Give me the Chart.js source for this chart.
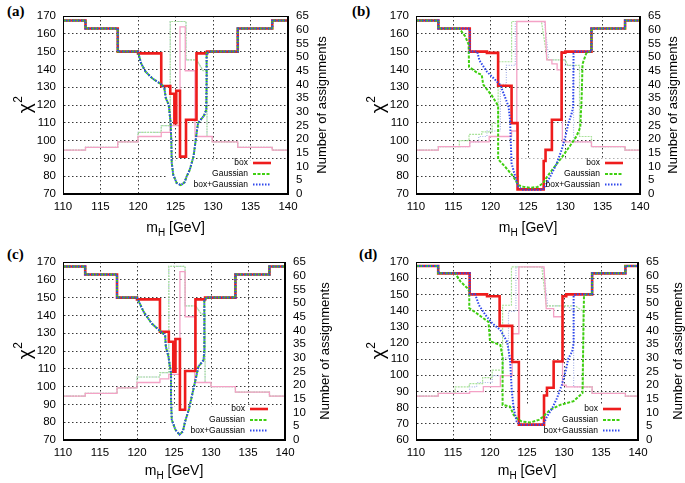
<!DOCTYPE html>
<html>
<head>
<meta charset="utf-8">
<script src="https://cdn.jsdelivr.net/npm/chart.js@4.4.1/dist/chart.umd.min.js"></script>
<style>
  html, body { margin: 0; padding: 0; background: #fff; }
  body { width: 685px; height: 483px; position: relative; overflow: hidden; }
  canvas { position: absolute; }
  .tag { position: absolute; font: bold 15px "Liberation Serif", "Times New Roman", serif; color: #000; }
</style>
</head>
<body>
<div class="tag" style="left:7px;top:3px">(a)</div>
<div class="tag" style="left:352px;top:3px">(b)</div>
<div class="tag" style="left:7px;top:246px">(c)</div>
<div class="tag" style="left:359px;top:246px">(d)</div>
<canvas id="chartA" width="340" height="240" style="left:0;top:0"></canvas>
<canvas id="chartB" width="340" height="240" style="left:345px;top:0"></canvas>
<canvas id="chartC" width="340" height="243" style="left:0;top:240px"></canvas>
<canvas id="chartD" width="340" height="243" style="left:345px;top:240px"></canvas>
<script>
// axis ranges (same x axis everywhere, panel (d) starts its chi2 axis lower)
var massMin = 110, massMax = 140, massStep = 5;
var chiMax = 170, chiStep = 10;
var countMax = 65, countStep = 5;
var seriesNames = ['box', 'Gaussian', 'box+Gaussian'];

// ---- panel (a) : [m_H, chi2] and [m_H, number of assignments]
var aBox = [[110,167.5],[113,167.5],[113,163],[117.3,163],[117.3,150],[120,150],[120,149],[123.1,149],[123.1,130.7],[124.3,130.7],[124.3,126.3],[124.85,126.3],[124.85,109.8],[125.1,109.8],[125.1,128],[125.6,128],[125.6,91],[126.4,91],[126.4,111.7],[127.8,111.7],[127.8,149],[129.2,149],[129.2,150],[133.3,150],[133.3,163],[137.9,163],[137.9,167.5],[140,167.5]];
var aGauss = [[110,167.5],[113,167.5],[113,163],[117.3,163],[117.3,150],[120,150],[120.4,143.5],[121,138.8],[121.9,135],[123,131.9],[123.5,130],[123.7,124],[124.1,120],[124.35,110],[124.45,98.6],[124.5,87.4],[124.7,80.8],[125.15,76.2],[125.7,75],[126.2,76.5],[126.5,80],[126.9,83.6],[127.4,91],[127.7,100.5],[128,109.8],[128.35,111.7],[128.8,114],[129.1,117.3],[129.15,136],[129.15,149],[129.5,150],[133.3,150],[133.3,163],[137.9,163],[137.9,167.5],[140,167.5]];
var aBoxGauss = aGauss;
var aBoxN = [[110,16],[113,16],[113,17],[117.3,17],[117.3,19],[120,19],[120,21],[123.1,21],[123.1,22.5],[124.3,22.5],[124.3,25],[125.6,25],[125.6,61],[126.3,61],[126.3,45],[127.6,45],[127.6,21],[129.9,21],[129.9,19],[133.3,19],[133.3,17],[137.9,17],[137.9,16],[140,16]];
var aGaussN = [[110,16],[113,16],[113,17],[117.3,17],[117.3,19],[120,19],[120,22.5],[123.1,22.5],[123.1,25],[124.3,25],[124.3,63],[126.4,63],[126.4,49],[127.8,49],[128.7,45],[129.2,45],[129.2,21],[129.9,21],[129.9,19],[133.3,19],[133.3,17],[137.9,17],[137.9,16],[140,16]];
var aBoxGaussN = aGaussN;

// ---- panel (b)
var bBox = [[110,167.5],[113,167.5],[113,163],[117.2,163],[117.2,150],[119.5,150],[119.5,149.3],[121,149.3],[121,130.8],[122.8,130.8],[122.8,109.8],[123.6,109.8],[123.6,72.6],[127.1,72.6],[127.1,88.5],[127.35,88.5],[127.35,94.8],[128.2,94.8],[128.2,111.7],[129.5,111.7],[129.5,149.4],[130,149.4],[130,150],[133.5,150],[133.5,163],[138,163],[138,167.5],[140,167.5]];
var bGauss = [[110,167.5],[113,167.5],[113,163],[115.8,163],[116.6,158.5],[117.05,154],[117.1,141.5],[118.2,138],[118.8,137],[119,131.5],[120.2,125],[121,119.5],[121,89.5],[121.9,85.5],[123,80],[123.7,75],[124.4,74],[125.4,73.5],[126.3,74],[127,76],[127.6,80],[128.5,85],[129.6,91],[130.7,97.5],[131.5,102.5],[132,107.5],[132.2,126],[132.3,143],[132.8,149],[133.3,150],[133.5,150],[133.5,163],[138,163],[138,167.5],[140,167.5]];
var bBoxGauss = [[110,167.5],[113,167.5],[113,163],[117.2,163],[117.2,150],[118.2,150],[118.5,145],[119.5,138.7],[120.4,135],[121.3,131.2],[121.9,124.7],[122.4,119],[122.6,111.6],[122.7,98.5],[122.8,87.2],[123.3,79.7],[123.7,74.1],[124.2,72.4],[127,72.4],[127.5,76],[128.2,81.6],[128.85,87.2],[129.5,94.7],[130,102.2],[130.4,109.7],[130.85,115.3],[131.05,119],[131.1,149],[131.3,150],[133.5,150],[133.5,163],[138,163],[138,167.5],[140,167.5]];
var bBoxN = [[110,16],[113,16],[113,17.3],[117.2,17.3],[117.2,19],[119.8,19],[119.8,21],[122.8,21],[122.8,23],[123.5,23],[123.5,63],[127.3,63],[127.5,49],[128.2,49],[128.2,47.5],[128.9,47.5],[128.9,45.3],[129.6,45.3],[129.6,19],[133.5,19],[133.5,17.3],[138,17.3],[138,16],[140,16]];
var bGaussN = [[110,16],[113,16],[113,17.3],[115.8,17.3],[115.8,19.5],[117.1,19.5],[117.1,21.8],[118.8,21.8],[118.8,22.7],[120.2,22.7],[120.2,25.8],[121,25.8],[121,48.3],[122.8,48.3],[122.8,63],[126.8,63],[127.6,49],[130,49],[130.3,47],[131.9,47],[131.9,21],[133.5,21],[133.5,17.3],[138,17.3],[138,16],[140,16]];
var bBoxGaussN = [[110,16],[113,16],[113,17.3],[117.2,17.3],[117.2,19],[118.4,19],[118.4,21],[119.5,21],[119.5,23],[121.3,23],[121.3,40],[122.1,40],[122.1,47],[123.3,47],[123.3,63],[127.2,63],[127.8,49],[130,49],[130,47],[131.1,47],[131.1,21],[131.3,19],[133.5,19],[133.5,17.3],[138,17.3],[138,16],[140,16]];

// ---- panel (c)
var cBox = [[110,167.5],[113,167.5],[113,163],[117.3,163],[117.3,150],[120,150],[120,149],[123.1,149],[123.1,130.8],[124.3,130.8],[124.3,125.2],[124.9,125.2],[124.9,108.4],[125.2,108.4],[125.2,126.7],[125.8,126.7],[125.8,87],[126.5,87],[126.5,108.8],[127.9,108.8],[127.9,149],[129.2,149],[129.2,150],[133.3,150],[133.3,163],[137.9,163],[137.9,167.5],[140,167.5]];
var cGauss = [[110,167.5],[113,167.5],[113,163],[117.3,163],[117.3,150],[120,150],[120.9,142],[122,135.4],[123.1,131.3],[123.8,128.9],[123.9,122.4],[124.25,116.8],[124.6,107.5],[124.6,92.5],[124.7,81.3],[125.2,75.7],[125.75,73],[126.2,74.8],[126.5,80.4],[127,87],[127.4,94.4],[127.9,103.7],[128.3,111.2],[129,114.9],[129.1,120.5],[129.1,149],[129.5,150],[133.3,150],[133.3,163],[137.9,163],[137.9,167.5],[140,167.5]];
var cBoxGauss = cGauss;
var cBoxN = [[110,16],[113,16],[113,17],[117.3,17],[117.3,19],[120,19],[120,21],[123.1,21],[123.1,22.3],[124.3,22.3],[124.3,24],[125.8,24],[125.8,61.5],[126.5,61.5],[126.5,45],[127.8,45],[127.8,21],[130,21],[130,19.5],[133.3,19.5],[133.3,17.5],[137.9,17.5],[137.9,16],[140,16]];
var cGaussN = [[110,16],[113,16],[113,17],[117.3,17],[117.3,19],[120,19],[120,23],[123.1,23],[123.1,24.6],[124.3,24.6],[124.3,63.4],[126.5,63.4],[126.5,49],[127.9,49],[128.7,46],[129.2,46],[129.2,21],[130,21],[130,19.5],[133.3,19.5],[133.3,17.5],[137.9,17.5],[137.9,16],[140,16]];
var cBoxGaussN = cGaussN;

// ---- panel (d)
var dBox = [[110,167.5],[113,167.5],[113,163],[117.25,163],[117.25,150],[119.6,150],[119.6,148.8],[121.3,148.8],[121.3,130.5],[123,130.5],[123,108.2],[123.9,108.2],[123.9,69.5],[127.3,69.5],[127.3,87.5],[127.7,87.5],[127.7,92.3],[128.6,92.3],[128.6,108.5],[129.8,108.5],[129.8,148.8],[130.3,148.8],[130.3,150],[133.8,150],[133.8,163],[138.3,163],[138.3,167.5],[140,167.5]];
var dGauss = [[110,167.5],[113,167.5],[113,163],[115.3,163],[116,158],[116.9,154],[117.2,152],[117.2,141.5],[118.2,138.3],[119.1,135.2],[119.8,133],[120,121],[121.4,118.7],[121.7,111],[121.7,81.7],[122.7,80.7],[123.2,75.5],[123.6,73.5],[124.3,71.4],[125.4,70.8],[126.6,72.4],[127.2,74.5],[128.1,78.6],[129.5,81.7],[131.3,84],[132.5,89],[132.6,120],[132.7,149.5],[133.1,150],[133.8,150],[133.8,163],[138.3,163],[138.3,167.5],[140,167.5]];
var dBoxGauss = [[110,167.5],[113,167.5],[113,163],[117.25,163],[117.25,150],[118,150],[118.5,143.4],[119.4,137.2],[120.3,132.1],[121.4,128],[122.3,120.8],[122.7,110.5],[122.95,90],[123.2,79.6],[123.6,71.4],[124.1,69.5],[127.2,69.5],[127.7,74.5],[128.4,79.6],[129.05,85.8],[129.7,94],[130.2,102.3],[130.6,110.5],[131.1,114.6],[131.3,120],[131.3,149.5],[131.6,150],[133.8,150],[133.8,163],[138.3,163],[138.3,167.5],[140,167.5]];
var dBoxN = [[110,16],[113,16],[113,17],[117.25,17],[117.25,17.7],[119.1,17.7],[119.1,19.5],[121.4,19.5],[121.4,23.5],[123,23.5],[123,38.8],[123.9,38.8],[123.9,63.2],[127.3,63.2],[127.6,48],[128.6,48],[128.6,45],[129.8,45],[129.8,20],[130.3,20],[130.3,19.4],[133.8,19.4],[133.8,17],[138.3,17],[138.3,16],[140,16]];
var dGaussN = [[110,16],[113,16],[113,17],[115.3,17],[115.3,19.4],[117.2,19.4],[117.2,20.6],[119,20.6],[119,22.8],[120.3,22.8],[120.3,25.5],[121.7,25.5],[121.7,49.2],[122.9,49.2],[122.9,63.2],[127,63.2],[127.6,49],[131.5,49],[132.6,47],[132.6,19.4],[133.8,19.4],[133.8,17],[138.3,17],[138.3,16],[140,16]];
var dBoxGaussN = [[110,16],[113,16],[113,17],[117.25,17],[117.25,19.4],[118.2,19.4],[118.2,21],[120.3,21],[120.3,23.5],[121.8,23.5],[121.8,30],[122.5,30],[122.5,47],[123.5,47],[123.5,63.2],[127.2,63.2],[127.8,49],[130.5,49],[131.3,47],[131.3,19.4],[133.8,19.4],[133.8,17],[138.3,17],[138.3,16],[140,16]];

var RED = '#ee1c1c', GREEN = '#3fcf10', BLUE = '#3048ec';
var FONT = '"Liberation Sans", Arial, Helvetica, sans-serif';
Chart.defaults.font.family = FONT;
Chart.defaults.color = '#000';

function pts(arr) {
  return arr.map(function (p) { return {x: p[0], y: p[1]}; });
}

// key, frame, and the axis titles (gnuplot style, so drawn by hand)
var gnuDecor = {
  id: 'gnuDecor',
  beforeDatasetsDraw: function (chart, args, o) {
    var a = chart.chartArea, ctx = chart.ctx;
    var x0 = chart.scales.x.getPixelForValue(o.keyLeft);
    var y0 = chart.scales.y.getPixelForValue(o.keyTop);
    ctx.save();
    ctx.fillStyle = '#fff';
    ctx.fillRect(x0, y0, a.right - x0, a.bottom - y0);
    ctx.restore();
  },
  afterDatasetsDraw: function (chart, args, o) {
    var a = chart.chartArea, ctx = chart.ctx;
    ctx.save();
    var rows = [
      {dy: -31, c: RED, w: 2.6, dash: []},
      {dy: -20, c: GREEN, w: 2, dash: [3, 1.5]},
      {dy: -9.5, c: BLUE, w: 2, dash: [1.5, 1.5]}
    ];
    ctx.font = '8.5px ' + FONT;
    ctx.textAlign = 'right';
    ctx.textBaseline = 'middle';
    for (var i = 0; i < rows.length; i++) {
      var y = a.bottom + rows[i].dy;
      ctx.fillStyle = '#000';
      ctx.fillText(seriesNames[i], a.right - 40, y);
      ctx.strokeStyle = rows[i].c;
      ctx.lineWidth = rows[i].w;
      ctx.setLineDash(rows[i].dash);
      ctx.beginPath();
      ctx.moveTo(a.right - 35, y);
      ctx.lineTo(a.right - 17, y);
      ctx.stroke();
    }
    ctx.setLineDash([]);
    ctx.strokeStyle = '#000';
    ctx.lineWidth = 1;
    ctx.strokeRect(Math.round(a.left) + 0.5, Math.round(a.top) + 0.5,
      Math.round(a.right - a.left) - 1, Math.round(a.bottom - a.top) - 1);
    ctx.restore();
  },
  afterDraw: function (chart, args, o) {
    var a = chart.chartArea, ctx = chart.ctx;
    var midY = (a.top + a.bottom) / 2, midX = (a.left + a.right) / 2;
    ctx.save();
    ctx.fillStyle = '#000';
    ctx.textBaseline = 'alphabetic';
    ctx.textAlign = 'left';

    // chi^2
    ctx.save();
    ctx.translate(o.chiX, midY);
    ctx.rotate(-Math.PI / 2);
    ctx.font = '19px ' + FONT;
    var wChi = ctx.measureText('χ').width;
    ctx.font = '12px ' + FONT;
    var wTwo = ctx.measureText('2').width;
    var sx = -(wChi + wTwo) / 2;
    ctx.font = '19px ' + FONT;
    ctx.fillText('χ', sx, 6);
    ctx.font = '12px ' + FONT;
    ctx.fillText('2', sx + wChi + 0.5, -3.5);
    ctx.restore();

    // number of assignments
    ctx.save();
    ctx.translate(o.countX, midY);
    ctx.rotate(-Math.PI / 2);
    ctx.font = '13px ' + FONT;
    ctx.textAlign = 'center';
    ctx.textBaseline = 'middle';
    ctx.fillText('Number of assignments', 0, 0);
    ctx.restore();

    // m_H [GeV]
    var base = a.bottom + o.massDy + 5;
    ctx.font = '14px ' + FONT;
    var wM = ctx.measureText('m').width;
    var wRest = ctx.measureText(' [GeV]').width;
    ctx.font = '10px ' + FONT;
    var wH = ctx.measureText('H').width;
    var x = midX - (wM + wH + wRest) / 2;
    ctx.font = '14px ' + FONT;
    ctx.fillText('m', x, base);
    ctx.font = '10px ' + FONT;
    ctx.fillText('H', x + wM, base + 4);
    ctx.font = '14px ' + FONT;
    ctx.fillText(' [GeV]', x + wM + wH, base);
    ctx.restore();
  }
};

function makePanel(canvasId, p) {
  var canvas = document.getElementById(canvasId);
  var tickFont = {size: 11.5};
  var gridStyle = {color: '#222', lineWidth: 0.9, drawTicks: false};

  return new Chart(canvas, {
    type: 'line',
    data: {
      datasets: [
        {label: 'box+Gaussian', data: pts(p.both), yAxisID: 'y', borderColor: BLUE, borderWidth: 2, borderDash: [1.5, 1.5], order: 0},
        {label: 'Gaussian', data: pts(p.gauss), yAxisID: 'y', borderColor: GREEN, borderWidth: 2, borderDash: [3, 1.5], order: 1},
        {label: 'box', data: pts(p.box), yAxisID: 'y', borderColor: RED, borderWidth: 2.6, order: 2},
        {label: 'box (count)', data: pts(p.boxN), yAxisID: 'n', borderColor: '#f4a2c6', borderWidth: 1.3, order: 3},
        {label: 'Gaussian (count)', data: pts(p.gaussN), yAxisID: 'n', borderColor: '#a9e29a', borderWidth: 1.2, borderDash: [2, 1], order: 4},
        {label: 'box+Gaussian (count)', data: pts(p.bothN), yAxisID: 'n', borderColor: '#a9b4e6', borderWidth: 1.2, borderDash: [1, 1.5], order: 5}
      ]
    },
    options: {
      responsive: false,
      animation: false,
      events: [],
      layout: {padding: {top: p.area.top, left: 0, right: 0, bottom: 0}},
      elements: {point: {radius: 0}, line: {tension: 0, fill: false, borderJoinStyle: 'miter'}},
      plugins: {
        legend: {display: false},
        tooltip: {enabled: false},
        gnuDecor: {keyLeft: 124, keyTop: p.keyTop, chiX: p.chiX, countX: p.countX, massDy: p.massDy}
      },
      scales: {
        x: {
          type: 'linear', min: massMin, max: massMax,
          ticks: {stepSize: massStep, autoSkip: false, maxRotation: 0, font: tickFont, padding: 5.5, color: '#000'},
          grid: gridStyle,
          border: {color: '#000', dash: [1.5, 2.5]},
          afterFit: function (s) { s.height = p.h - p.area.bottom; }
        },
        y: {
          type: 'linear', position: 'left', min: p.chiMin, max: chiMax,
          ticks: {stepSize: chiStep, autoSkip: false, font: tickFont, padding: 7, color: '#000'},
          grid: gridStyle,
          border: {color: '#000', dash: [1.5, 2.5]},
          afterFit: function (s) { s.width = p.area.left; }
        },
        n: {
          type: 'linear', position: 'right', min: 0, max: countMax,
          ticks: {stepSize: countStep, autoSkip: false, font: tickFont, padding: 8, color: '#000'},
          grid: {drawOnChartArea: false, drawTicks: false},
          border: {color: '#000'},
          afterFit: function (s) { s.width = p.w - p.area.right; }
        }
      }
    },
    plugins: [gnuDecor]
  });
}

makePanel('chartA', {w: 340, h: 240, area: {left: 63, right: 288, top: 16, bottom: 194}, chiMin: 70, keyTop: 89,
  chiX: 25, countX: 322, massDy: 33,
  box: aBox, gauss: aGauss, both: aBoxGauss, boxN: aBoxN, gaussN: aGaussN, bothN: aBoxGaussN});
makePanel('chartB', {w: 340, h: 240, area: {left: 71, right: 295, top: 16, bottom: 194}, chiMin: 70, keyTop: 90,
  chiX: 33, countX: 328, massDy: 33,
  box: bBox, gauss: bGauss, both: bBoxGauss, boxN: bBoxN, gaussN: bGaussN, bothN: bBoxGaussN});
makePanel('chartC', {w: 340, h: 243, area: {left: 63, right: 285, top: 22, bottom: 200}, chiMin: 70, keyTop: 89,
  chiX: 25, countX: 325, massDy: 30,
  box: cBox, gauss: cGauss, both: cBoxGauss, boxN: cBoxN, gaussN: cGaussN, bothN: cBoxGaussN});
makePanel('chartD', {w: 340, h: 243, area: {left: 71, right: 293, top: 22, bottom: 200}, chiMin: 60, keyTop: 82,
  chiX: 33, countX: 333, massDy: 30,
  box: dBox, gauss: dGauss, both: dBoxGauss, boxN: dBoxN, gaussN: dGaussN, bothN: dBoxGaussN});
</script>
</body>
</html>
